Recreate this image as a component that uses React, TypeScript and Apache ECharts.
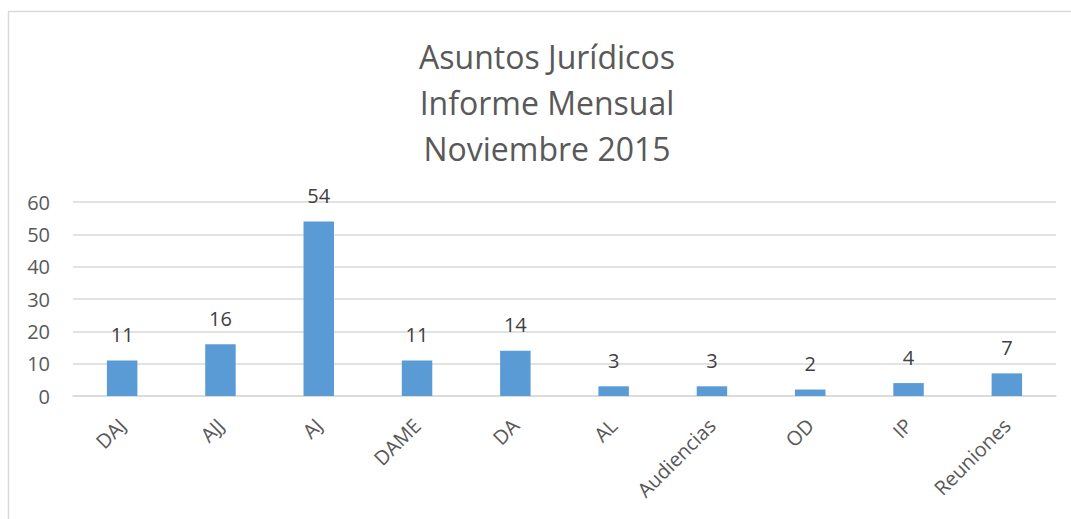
import React, { useEffect, useRef } from "react";
import * as echarts from "echarts";

const categories = ["DAJ", "AJJ", "AJ", "DAME", "DA", "AL", "Audiencias", "OD", "IP", "Reuniones"];
const values = [11, 16, 54, 11, 14, 3, 3, 2, 4, 7];
const titleLines = ["Asuntos Jurídicos", "Informe Mensual", "Noviembre 2015"];
const yMin = 0;
const yMax = 60;
const yStep = 10;

const FONT = "'Open Sans', sans-serif";

export default function App() {
  const ref = useRef<HTMLDivElement>(null);
  useEffect(() => {
    if (!ref.current) return;
    const chart = echarts.init(ref.current, undefined, { renderer: "svg" });
    chart.setOption({
      animation: false,
      backgroundColor: "#ffffff",
      title: {
        text: titleLines.join("\n"),
        left: 542,
        textAlign: "center",
        top: 28,
        textStyle: {
          fontFamily: FONT,
          fontSize: 32,
          lineHeight: 46,
          fontWeight: "normal",
          color: "#595959",
        },
      },
      graphic: [
        {
          type: "rect",
          shape: { x: 8.5, y: 11.5, width: 1200, height: 700 },
          style: { fill: "none", stroke: "#d9d9d9", lineWidth: 1.5 },
          silent: true,
        },
      ],
      grid: { left: 73, right: 15, top: 202, bottom: 123, containLabel: false },
      xAxis: {
        type: "category",
        data: categories,
        axisLine: { show: true, lineStyle: { color: "#d9d9d9", width: 1.5 } },
        axisTick: { show: false },
        axisLabel: {
          rotate: 45,
          interval: 0,
          margin: 26,
          fontFamily: FONT,
          fontSize: 20,
          color: "#595959",
        },
      },
      yAxis: {
        type: "value",
        min: yMin,
        max: yMax,
        interval: yStep,
        axisLine: { show: false },
        axisTick: { show: false },
        splitLine: { lineStyle: { color: "#d9d9d9", width: 1.5 } },
        axisLabel: {
          margin: 23,
          fontFamily: FONT,
          fontSize: 20,
          color: "#595959",
        },
      },
      series: [
        {
          type: "bar",
          data: values,
          barWidth: "31%",
          itemStyle: { color: "#5B9BD5" },
          label: {
            show: true,
            position: "top",
            distance: 16,
            fontFamily: FONT,
            fontSize: 20,
            color: "#404040",
          },
        },
      ],
    });
    return () => chart.dispose();
  }, []);
  return (
    <div
      ref={ref}
      style={{ position: "absolute", left: 0, top: 0, width: 1071, height: 519 }}
    />
  );
}
